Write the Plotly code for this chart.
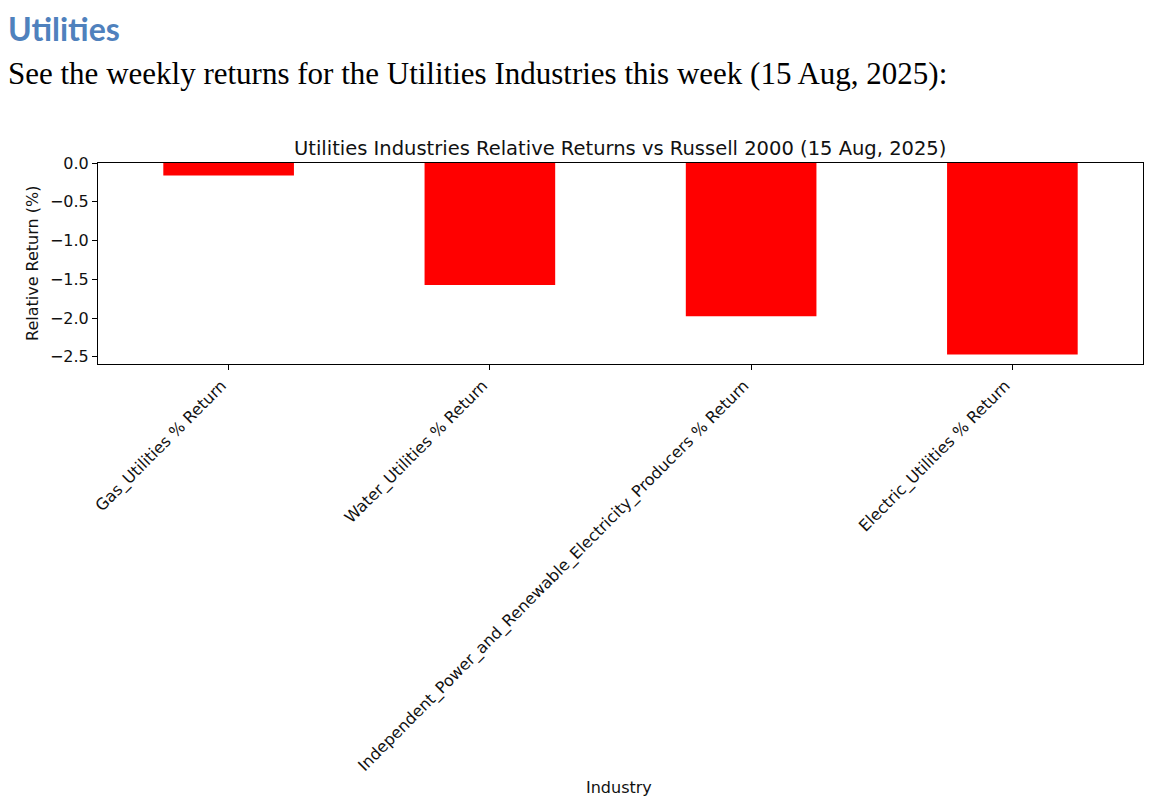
import plotly.graph_objects as go

categories = [
    "Gas_Utilities % Return",
    "Water_Utilities % Return",
    "Independent_Power_and_Renewable_Electricity_Producers % Return",
    "Electric_Utilities % Return",
]
returns = [-0.16, -1.575, -1.977, -2.47]
y_ticks = [0.0, -0.5, -1.0, -1.5, -2.0, -2.5]

# page body has an 8px margin, so the figure sits at (8, 8)
OFF = 8
W, H = 1152 - OFF, 804 - OFF
L, T = 98 - OFF, 163 - OFF
pw, ph = 1045, 201
R = W - L - pw
B = H - T - ph

def px(x):
    return (x - OFF - L) / pw

def py(y):
    return (H - B - (y - OFF)) / ph

fig = go.Figure(go.Bar(
    x=list(range(len(categories))), y=returns, width=0.5,
    marker=dict(color="#ff0000", line=dict(width=0)),
))

ymin = min(returns) * 1.05
fig.update_layout(
    width=W, height=H, margin=dict(l=L, r=R, t=T, b=B, autoexpand=False),
    paper_bgcolor="white", plot_bgcolor="white", showlegend=False,
    font=dict(family="DejaVu Sans", color="black", size=16),
    xaxis=dict(
        range=[-0.5, 3.5], tickmode="array", tickvals=list(range(len(categories))),
        ticktext=categories, tickangle=-45, showline=True, mirror=True,
        linecolor="black", linewidth=1, ticks="outside", ticklen=5, tickcolor="black",
        showgrid=False, zeroline=False, tickfont=dict(size=16, color="#111111"),
        ticklabelshift=-7, automargin=False,
    ),
    yaxis=dict(
        range=[ymin, 0], tickmode="array", tickvals=y_ticks, tickformat=".1f",
        showline=True, mirror=True, linecolor="black", linewidth=1,
        ticks="outside", ticklen=5, tickcolor="black", showgrid=False,
        zeroline=False, tickfont=dict(size=16, color="#111111"), automargin=False,
    ),
    annotations=[
        dict(text="<b>Utilities</b>", x=px(6), y=py(28), xref="paper", yref="paper",
             xanchor="left", yanchor="middle", showarrow=False,
             font=dict(family="Lato", size=32, color="#4F81BD")),
        dict(text="See the weekly returns for the Utilities Industries this week (15 Aug, 2025):",
             x=px(6), y=py(73), xref="paper", yref="paper", xanchor="left", yanchor="middle",
             showarrow=False, font=dict(family="Liberation Serif", size=31, color="black")),
        dict(text="Utilities Industries Relative Returns vs Russell 2000 (15 Aug, 2025)",
             x=px(620), y=py(148), xref="paper", yref="paper", xanchor="center", yanchor="middle",
             showarrow=False, font=dict(family="DejaVu Sans", size=19.5, color="#111111")),
        dict(text="Relative Return (%)", x=px(32), y=py(264), xref="paper", yref="paper",
             xanchor="center", yanchor="middle", textangle=-90, showarrow=False,
             font=dict(family="DejaVu Sans", size=16, color="#111111")),
        dict(text="Industry", x=px(619), y=py(787), xref="paper", yref="paper",
             xanchor="center", yanchor="middle", showarrow=False,
             font=dict(family="DejaVu Sans", size=16, color="#111111")),
    ],
)

fig.write_html("out.html")
